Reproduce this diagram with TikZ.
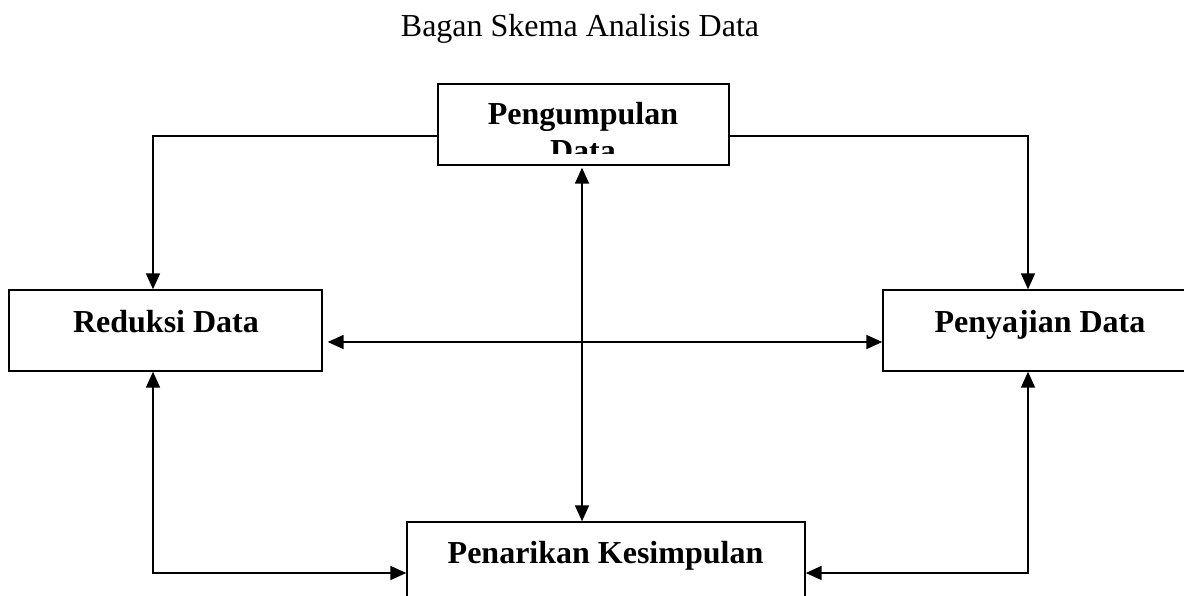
\documentclass[tikz,border=0pt]{standalone}
\usepackage{fontspec}
\setmainfont{Liberation Serif}
\usetikzlibrary{arrows.meta}
\begin{document}
\begin{tikzpicture}[x=1pt,y=-1pt,
  box/.style={draw, line width=1.4pt, minimum height=81pt, inner sep=0pt},
  lbl/.style={font=\fontsize{32}{37}\selectfont\bfseries, anchor=base, inner sep=0pt},
  conn/.style={line width=1.8pt},
  tip/.style={-{Triangle[length=16pt,width=14pt]}},
  dtip/.style={{Triangle[length=16pt,width=14pt]}-{Triangle[length=16pt,width=14pt]}}]
\clip (0,0) rectangle (1184,596);
\fill[white] (0,0) rectangle (1184,596);
\node[font=\fontsize{32}{37}\selectfont, anchor=base, inner sep=0pt] (title) at (580,37) {Bagan Skema Analisis Data};
% boxes
\node[box, minimum width=291pt] (pgd) at (583.5,124.5) {};
\node[box, minimum width=313pt] (red) at (165.5,330.5) {};
\node[box, minimum width=314pt] (saj) at (1040,330.5) {};
\node[box, minimum width=398pt] (pnk) at (606,562.5) {};
% labels
\begin{scope}
  \clip (438,84) rectangle (729,154);
  \node[lbl] (pgdA) at (583,125) {Pengumpulan};
  \node[lbl] (pgdB) at (583,162) {Data};
\end{scope}
\node[lbl] (redL) at (166,332) {Reduksi Data};
\node[lbl] (sajL) at (1040,332) {Penyajian Data};
\node[lbl] (pnkL) at (605.5,563) {Penarikan Kesimpulan};
% connectors
\coordinate (vx) at ([xshift=-1.5pt]pgd.south);
\draw[conn,tip] ([yshift=-11.5pt]pgd.west) -| ([xshift=-12.5pt]red.north);
\draw[conn,tip] ([yshift=-11.5pt]pgd.east) -| ([xshift=-12pt]saj.north);
\draw[conn,dtip,shorten <=2pt] (vx) -- (vx |- pnk.north);
\draw[conn,dtip,shorten <=5pt] ([yshift=-11.5pt]red.east) -- ([yshift=-11.5pt]saj.west);
\draw[conn,dtip] ([xshift=-12.5pt]red.south) |- ([yshift=-10.5pt]pnk.west);
\draw[conn,dtip] ([xshift=-12pt]saj.south) |- ([yshift=-10.5pt]pnk.east);
\end{tikzpicture}
\end{document}
